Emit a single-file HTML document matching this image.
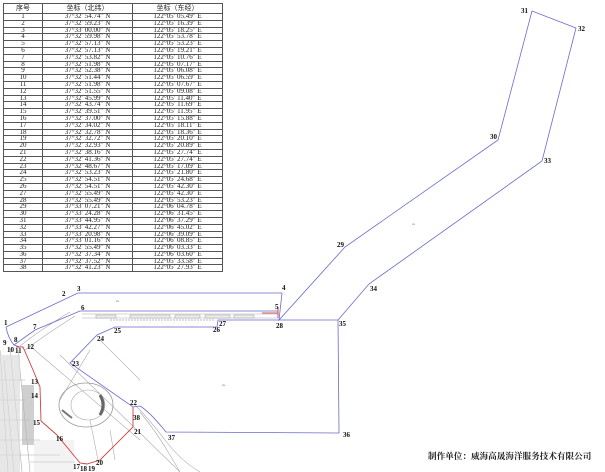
<!DOCTYPE html>
<html><head><meta charset="utf-8">
<style>
html,body{margin:0;padding:0;background:#fff;width:605px;height:472px;overflow:hidden;}
#tbl{position:absolute;left:3px;top:3px;border-collapse:collapse;font-family:"Liberation Serif","Noto Serif CJK SC",serif;font-size:7px;color:#222;table-layout:fixed;width:219px;}
#tbl td{border:0.8px solid #555;height:5.8px;line-height:5.8px;padding:0;text-align:center;white-space:nowrap;overflow:hidden;}
#tbl tr.h td{height:9px;line-height:9px;font-family:"Liberation Sans","Noto Sans CJK SC",sans-serif;font-size:7px;}
svg{position:absolute;left:0;top:0;}
.l{font-family:"Liberation Serif",serif;font-weight:bold;font-size:7px;fill:#111;}
.ft{position:absolute;left:428px;top:450px;font-family:"Liberation Serif","Noto Serif CJK SC",serif;font-weight:bold;font-size:8.6px;color:#222;white-space:nowrap;}
</style></head><body>
<svg width="605" height="472" viewBox="0 0 605 472">
<g fill="none" stroke="#aaa" stroke-width="0.6">
<path d="M0,350 L8,472"/><path d="M10,348 L22,472"/><path d="M18,350 L30,472"/><path d="M4,360 L14,472"/>
<path d="M82,314 L278,314"/><path d="M82,318 L278,318"/>
<path d="M70,312 Q40,330 20,346"/><path d="M75,316 Q45,335 25,350"/>
<path d="M30,346 L140,440"/><path d="M60,355 L180,472"/>
<path d="M100,340 L140,380"/><path d="M90,350 L60,400"/>
<path d="M135,405 Q150,420 165,440 Q180,460 200,472"/><path d="M140,412 Q155,430 170,455 L180,472"/>
<path d="M90,420 L98,460"/><path d="M110,430 L115,460"/>
<path d="M0,380 L25,380 M0,400 L25,400 M0,420 L30,420 M0,440 L40,440 M0,455 L60,455 M30,462 L75,462"/>
</g>
<ellipse cx="86" cy="405" rx="27" ry="22" fill="none" stroke="#999" stroke-width="0.8"/>
<ellipse cx="88" cy="405" rx="17" ry="15" fill="none" stroke="#aaa" stroke-width="0.6"/>
<path d="M100,395 Q106,405 100,415" stroke="#666" stroke-width="3" fill="none"/>
<path d="M62,410 Q68,415 72,418" stroke="#777" stroke-width="2" fill="none"/>
<g fill="#ddd" opacity="0.7">
<rect x="0" y="355" width="20" height="117"/>
<rect x="22" y="385" width="12" height="60" fill="#bbb"/>
<rect x="34" y="440" width="40" height="32" opacity="0.5"/>
</g>
<g fill="#eee" stroke="#999" stroke-width="0.5">
<rect x="96" y="315" width="20" height="3"/><rect x="130" y="315" width="40" height="3"/>
<rect x="175" y="315" width="25" height="3"/><rect x="205" y="315" width="25" height="3"/><rect x="234" y="315" width="20" height="3"/>
</g>
<path d="M110,320 L215,320" stroke="#bbb" stroke-width="1" stroke-dasharray="2,1"/>
<g fill="none" stroke="#6a6ad0" stroke-width="0.8">
<path d="M6,327 L78,293 L282,293 L279,320 L345,247 L498,140 L532,11 L576,28 L542,161 L369,284 L338,320 L339,433 L166,432 Q150,412 140,406 L133,407 L70,363 L97,335 L115,327 L217,327 L218,320 L279,320 L338,320"/>
<path d="M6,327 Q8,338 14,345 L35,330 L80,311 L278,311"/>
<path d="M14,345 L20,347"/>
</g>
<g fill="none" stroke="#d04040" stroke-width="0.9">
<path d="M16,347 L23,347 L33,370 L40,387 L41,421 L57,435 L80,463 L87,464 L100,460 L130,430 L133,427 L133,407"/>
<path d="M278,307 L278,318" /><path d="M262,313 L278,313"/>
</g>
<g class="l">
<text x="4" y="325">1</text><text x="62" y="296">2</text><text x="77" y="291">3</text><text x="282" y="290">4</text><text x="275" y="309">5</text>
<text x="81" y="310">6</text><text x="33" y="329">7</text><text x="14" y="342">8</text><text x="3" y="345">9</text>
<text x="7" y="352">10</text><text x="15" y="353">11</text><text x="27" y="349">12</text><text x="31" y="384">13</text>
<text x="31" y="398">14</text><text x="33" y="425">15</text><text x="56" y="441">16</text><text x="73" y="469">17</text>
<text x="80" y="471">18</text><text x="88" y="471">19</text><text x="96" y="465">20</text><text x="134" y="434">21</text>
<text x="130" y="405">22</text><text x="72" y="366">23</text><text x="97" y="341">24</text><text x="114" y="333">25</text>
<text x="213" y="332">26</text><text x="219" y="326">27</text><text x="276" y="328">28</text><text x="337" y="247">29</text>
<text x="490" y="139">30</text><text x="521" y="13">31</text><text x="578" y="31">32</text><text x="544" y="163">33</text>
<text x="370" y="291">34</text><text x="339" y="326">35</text><text x="343" y="437">36</text><text x="168" y="440">37</text>
<text x="133" y="420">38</text>
</g>
<g font-size="3" fill="#555" font-family="Liberation Sans,sans-serif"><text x="116" y="302">xx</text><text x="412" y="225">xx</text><text x="222" y="386">xx</text></g>
</svg>
<table id="tbl">
<colgroup><col style="width:39px"><col style="width:90px"><col style="width:90px"></colgroup>
<tr class="h"><td>序号</td><td>坐标（北纬）</td><td>坐标（东经）</td></tr>
<tr><td>1</td><td>37°32′ 54.74″ N</td><td>122°05′ 05.49″ E</td></tr>
<tr><td>2</td><td>37°32′ 59.23″ N</td><td>122°05′ 16.39″ E</td></tr>
<tr><td>3</td><td>37°33′ 00.00″ N</td><td>122°05′ 18.25″ E</td></tr>
<tr><td>4</td><td>37°32′ 59.98″ N</td><td>122°05′ 53.78″ E</td></tr>
<tr><td>5</td><td>37°32′ 57.13″ N</td><td>122°05′ 53.23″ E</td></tr>
<tr><td>6</td><td>37°32′ 57.13″ N</td><td>122°05′ 19.21″ E</td></tr>
<tr><td>7</td><td>37°32′ 53.82″ N</td><td>122°05′ 10.76″ E</td></tr>
<tr><td>8</td><td>37°32′ 51.98″ N</td><td>122°05′ 07.17″ E</td></tr>
<tr><td>9</td><td>37°32′ 52.38″ N</td><td>122°05′ 06.08″ E</td></tr>
<tr><td>10</td><td>37°32′ 51.44″ N</td><td>122°05′ 06.59″ E</td></tr>
<tr><td>11</td><td>37°32′ 51.98″ N</td><td>122°05′ 07.67″ E</td></tr>
<tr><td>12</td><td>37°32′ 51.55″ N</td><td>122°05′ 09.08″ E</td></tr>
<tr><td>13</td><td>37°32′ 45.99″ N</td><td>122°05′ 11.40″ E</td></tr>
<tr><td>14</td><td>37°32′ 43.74″ N</td><td>122°05′ 11.69″ E</td></tr>
<tr><td>15</td><td>37°32′ 39.51″ N</td><td>122°05′ 11.95″ E</td></tr>
<tr><td>16</td><td>37°32′ 37.00″ N</td><td>122°05′ 15.88″ E</td></tr>
<tr><td>17</td><td>37°32′ 34.02″ N</td><td>122°05′ 18.11″ E</td></tr>
<tr><td>18</td><td>37°32′ 32.78″ N</td><td>122°05′ 18.36″ E</td></tr>
<tr><td>19</td><td>37°32′ 32.72″ N</td><td>122°05′ 20.10″ E</td></tr>
<tr><td>20</td><td>37°32′ 32.93″ N</td><td>122°05′ 20.89″ E</td></tr>
<tr><td>21</td><td>37°32′ 38.16″ N</td><td>122°05′ 27.74″ E</td></tr>
<tr><td>22</td><td>37°32′ 41.36″ N</td><td>122°05′ 27.74″ E</td></tr>
<tr><td>23</td><td>37°32′ 48.67″ N</td><td>122°05′ 17.09″ E</td></tr>
<tr><td>24</td><td>37°32′ 53.23″ N</td><td>122°05′ 21.80″ E</td></tr>
<tr><td>25</td><td>37°32′ 54.51″ N</td><td>122°05′ 24.68″ E</td></tr>
<tr><td>26</td><td>37°32′ 54.51″ N</td><td>122°05′ 42.30″ E</td></tr>
<tr><td>27</td><td>37°32′ 55.49″ N</td><td>122°05′ 42.30″ E</td></tr>
<tr><td>28</td><td>37°32′ 55.49″ N</td><td>122°05′ 53.23″ E</td></tr>
<tr><td>29</td><td>37°33′ 07.21″ N</td><td>122°06′ 04.78″ E</td></tr>
<tr><td>30</td><td>37°33′ 24.28″ N</td><td>122°06′ 31.45″ E</td></tr>
<tr><td>31</td><td>37°33′ 44.95″ N</td><td>122°06′ 37.29″ E</td></tr>
<tr><td>32</td><td>37°33′ 42.27″ N</td><td>122°06′ 45.02″ E</td></tr>
<tr><td>33</td><td>37°33′ 20.98″ N</td><td>122°06′ 39.09″ E</td></tr>
<tr><td>34</td><td>37°33′ 01.16″ N</td><td>122°06′ 08.85″ E</td></tr>
<tr><td>35</td><td>37°32′ 55.49″ N</td><td>122°06′ 03.33″ E</td></tr>
<tr><td>36</td><td>37°32′ 37.34″ N</td><td>122°06′ 03.60″ E</td></tr>
<tr><td>37</td><td>37°32′ 37.52″ N</td><td>122°05′ 33.58″ E</td></tr>
<tr><td>38</td><td>37°32′ 41.23″ N</td><td>122°05′ 27.93″ E</td></tr>
</table>
<div class="ft">制作单位：威海高晟海洋服务技术有限公司</div>
</body></html>
